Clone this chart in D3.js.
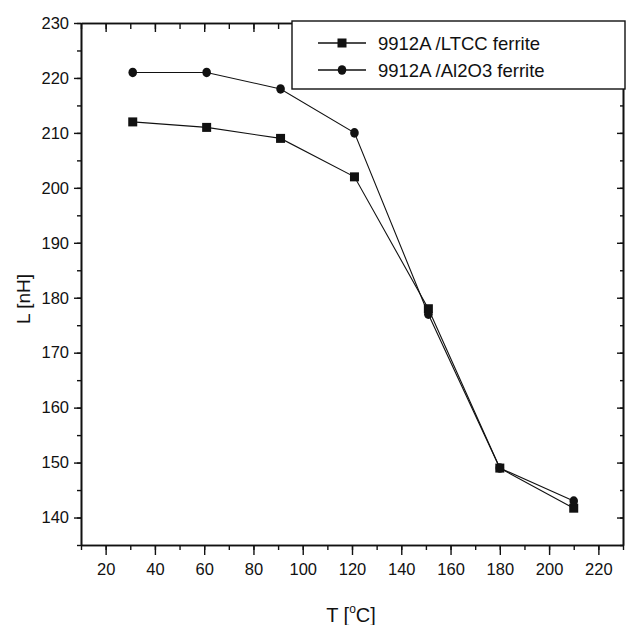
<!DOCTYPE html>
<html lang="en">
<head>
<meta charset="UTF-8">
<title>L vs T</title>
<script src="https://d3js.org/d3.v7.min.js"></script>
<style>
  body { margin: 0; background: #fff; }
  svg { display: block; font-family: 'Liberation Sans', Arial, sans-serif; }
  .tick text { font-size: 16.5px; fill: #111; }
</style>
</head>
<body>
<svg id="chart" width="626" height="625"></svg>
<script>
// data
const temps = [31, 61, 91, 121, 151, 180, 210];
const ltcc = [212, 211, 209, 202, 178, 149, 141.7];
const al2o3 = [221, 221, 218, 210, 177, 149, 143];
const seriesNames = ["9912A /LTCC ferrite", "9912A /Al2O3 ferrite"];
const xTicks = [20, 40, 60, 80, 100, 120, 140, 160, 180, 200, 220];
const yTicks = [140, 150, 160, 170, 180, 190, 200, 210, 220, 230];

const svg = d3.select("#chart");
const plotL = 81, plotR = 623, plotT = 23, plotB = 545;

const x = d3.scaleLinear().domain([10, 230]).range([plotL, plotR]);
const y = d3.scaleLinear().domain([135, 230]).range([plotB, plotT]);

const minorX = d3.range(10, 231, 10);
const minorY = d3.range(135, 231, 5);

function styleAxis(g) {
  g.select(".domain").attr("stroke", "#111").attr("stroke-width", 1.6);
  g.selectAll(".tick line").attr("stroke", "#111").attr("stroke-width", 1.4);
}

// bottom axis: minor then major
svg.append("g").attr("transform", `translate(0,${plotB})`)
  .call(d3.axisBottom(x).tickValues(minorX).tickSize(5).tickFormat("").tickSizeOuter(0))
  .call(styleAxis);
svg.append("g").attr("transform", `translate(0,${plotB})`)
  .call(d3.axisBottom(x).tickValues(xTicks).tickSize(10).tickPadding(8).tickSizeOuter(0))
  .call(styleAxis);

// left axis
svg.append("g").attr("transform", `translate(${plotL},0)`)
  .call(d3.axisLeft(y).tickValues(minorY).tickSize(4).tickFormat("").tickSizeOuter(0))
  .call(styleAxis);
svg.append("g").attr("transform", `translate(${plotL},0)`)
  .call(d3.axisLeft(y).tickValues(yTicks).tickSize(7).tickPadding(5).tickSizeOuter(0))
  .call(styleAxis);

// top axis, ticks inward
svg.append("g").attr("transform", `translate(0,${plotT})`)
  .call(d3.axisTop(x).tickValues(minorX).tickSize(-6).tickFormat("").tickSizeOuter(0))
  .call(styleAxis);
svg.append("g").attr("transform", `translate(0,${plotT})`)
  .call(d3.axisTop(x).tickValues(xTicks).tickSize(-9).tickFormat("").tickSizeOuter(0))
  .call(styleAxis);

// right axis, ticks inward
svg.append("g").attr("transform", `translate(${plotR},0)`)
  .call(d3.axisRight(y).tickValues(minorY).tickSize(-3).tickFormat("").tickSizeOuter(0))
  .call(styleAxis);
svg.append("g").attr("transform", `translate(${plotR},0)`)
  .call(d3.axisRight(y).tickValues(yTicks).tickSize(-6).tickFormat("").tickSizeOuter(0))
  .call(styleAxis);

const line = d3.line().x((d, i) => x(temps[i])).y(d => y(d));

const series = [ltcc, al2o3];
series.forEach((vals, si) => {
  svg.append("path")
    .datum(vals)
    .attr("d", line)
    .attr("fill", "none")
    .attr("stroke", "#111")
    .attr("stroke-width", 1.1);
});

function drawMarker(g, cx, cy, kind) {
  if (kind === 0) {
    g.append("rect").attr("x", cx - 4.5).attr("y", cy - 4.5)
      .attr("width", 9).attr("height", 9).attr("fill", "#111");
  } else {
    g.append("ellipse").attr("cx", cx).attr("cy", cy)
      .attr("rx", 4.3).attr("ry", 4.8).attr("fill", "#111");
  }
}

const markers = svg.append("g");
series.forEach((vals, si) => {
  vals.forEach((v, i) => drawMarker(markers, x(temps[i]), y(v), si));
});

// legend
const lg = svg.append("g");
lg.append("rect").attr("x", 292).attr("y", 21).attr("width", 333).attr("height", 68)
  .attr("fill", "#fff").attr("stroke", "#111").attr("stroke-width", 1.4);
seriesNames.forEach((name, i) => {
  const ly = 43 + i * 27;
  lg.append("line").attr("x1", 318).attr("x2", 366).attr("y1", ly).attr("y2", ly)
    .attr("stroke", "#111").attr("stroke-width", 1.3);
  drawMarker(lg, 342, ly, i);
  lg.append("text").attr("x", 378).attr("y", ly + 6.5)
    .attr("font-size", 18.5).attr("fill", "#111").text(name);
});

// axis titles
svg.append("text")
  .attr("transform", "translate(30,299) rotate(-90)")
  .attr("text-anchor", "middle")
  .attr("font-size", 19).attr("fill", "#111")
  .text("L [nH]");

const xt = svg.append("text")
  .attr("x", 351).attr("y", 622)
  .attr("text-anchor", "middle")
  .attr("font-size", 20).attr("fill", "#111");
xt.append("tspan").text("T [");
xt.append("tspan").attr("font-size", 12).attr("dy", -9).text("o");
xt.append("tspan").attr("dy", 9).text("C]");
</script>
</body>
</html>
